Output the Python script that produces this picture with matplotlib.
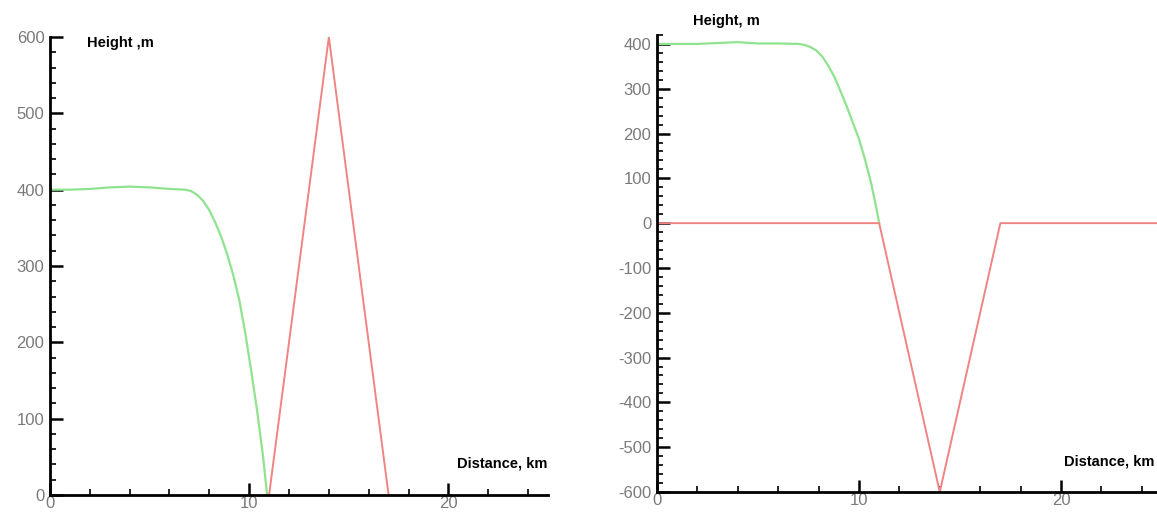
import numpy as np
import matplotlib.pyplot as plt
from matplotlib.ticker import MultipleLocator

plt.rcParams['font.family'] = ['Liberation Sans', 'DejaVu Sans']
plt.rcParams['axes.unicode_minus'] = False

# left panel: surface profile (green) and triangular hill (red)
left_green_x = [0, 1, 2, 3, 4, 5, 6, 6.8, 7.1, 7.4, 7.7, 8.0, 8.3, 8.6, 8.9, 9.2,
                9.5, 9.8, 10.1, 10.4, 10.7, 10.9]
left_green_y = [400, 400, 401, 403, 404, 403, 401, 400, 398, 393, 385, 373, 357, 338,
                315, 288, 256, 213, 163, 110, 50, 0]
left_red_x = [11, 14, 17]
left_red_y = [0, 600, 0]

# right panel: surface profile (green) and triangular trench (red)
right_green_x = [0, 1, 2, 3, 4, 5, 6, 7, 7.3, 7.6, 7.9, 8.2, 8.5, 8.8, 9.1, 9.4,
                 9.7, 10.0, 10.3, 10.6, 10.9, 11]
right_green_y = [400, 400, 400, 402, 404, 401, 401, 400, 398, 393, 385, 371, 350, 325,
                 293, 260, 224, 188, 142, 90, 25, 0]
right_red_x = [0, 11, 14, 17, 25]
right_red_y = [0, 0, -600, 0, 0]

green = '#8fe38f'
red = '#f08484'
tick_gray = '#7a7a7a'

fig = plt.figure(figsize=(11.57, 5.15), dpi=100)
ax1 = fig.add_axes([0.0432, 0.0388, 0.4304, 0.8893])
ax2 = fig.add_axes([0.5678, 0.0447, 0.4365, 0.8874])


def style(ax):
    for s in ['top', 'right']:
        ax.spines[s].set_visible(False)
    for s in ['left', 'bottom']:
        ax.spines[s].set_linewidth(2)
    ax.xaxis.set_major_locator(MultipleLocator(10))
    ax.xaxis.set_minor_locator(MultipleLocator(2))
    ax.yaxis.set_major_locator(MultipleLocator(100))
    ax.yaxis.set_minor_locator(MultipleLocator(20))
    ax.tick_params(which='major', direction='in', length=9, width=1.8,
                   labelsize=12, labelcolor=tick_gray)
    ax.tick_params(which='minor', direction='in', length=4, width=1.2)
    ax.tick_params(axis='x', pad=1)
    ax.tick_params(axis='y', pad=4)


ax1.plot(left_green_x, left_green_y, color=green, lw=1.6)
ax1.plot(left_red_x, left_red_y, color=red, lw=1.4)
ax1.set_xlim(0, 25)
ax1.set_ylim(0, 600)
style(ax1)

ax2.plot(right_green_x, right_green_y, color=green, lw=1.6)
ax2.plot(right_red_x, right_red_y, color=red, lw=1.4)
ax2.set_xlim(0, 25)
ax2.set_ylim(-600, 420)
style(ax2)

# axis titles placed in pixel positions of the reference
W, H = 1157, 515
fig.text(87 / W, 1 - 43 / H, 'Height ,m', fontsize=10.5, fontweight='bold', va='center')
fig.text(693 / W, 1 - 21 / H, 'Height, m', fontsize=10.5, fontweight='bold', va='center')
fig.text(547 / W, 1 - 463 / H, 'Distance, km', fontsize=10.5, fontweight='bold',
         va='center', ha='right')
fig.text(1154 / W, 1 - 462 / H, 'Distance, km', fontsize=10.5, fontweight='bold',
         va='center', ha='right')

fig.savefig('out.png', dpi=100)
